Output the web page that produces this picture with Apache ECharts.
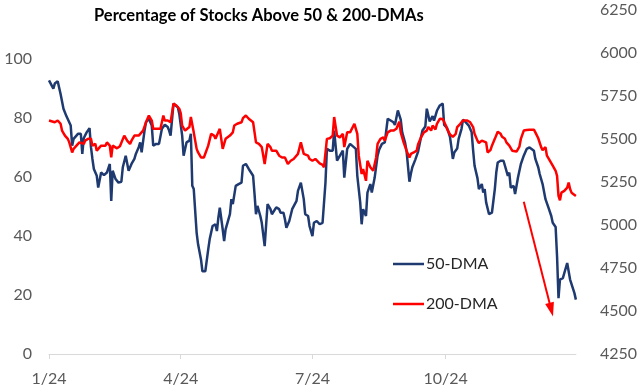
<!DOCTYPE html>
<html>
<head>
<meta charset="utf-8">
<script src="https://cdn.jsdelivr.net/npm/echarts@6/dist/echarts.min.js"></script>
<style>
html,body{margin:0;padding:0;background:#fff;}
#chart{width:640px;height:390px;}
</style>
</head>
<body>
<div id="chart"></div>
<script>
// ---- data ----
const chartTitle = 'Percentage of Stocks Above 50 & 200-DMAs';
const seriesNames = ['50-DMA', '200-DMA'];
const xTickDates = ['1/2', '4/2', '7/2', '10/2'];
const xTickLabels = ['1/24', '4/24', '7/24', '10/24'];

const dates50 = ['1/2','1/5','1/6','1/8','1/10','1/12','1/14','1/17','1/18','1/19','1/22','1/24','1/25','1/26','1/28','1/30','1/31',
'2/1','2/2','2/4','2/5','2/7','2/9','2/11','2/13','2/14','2/15','2/17','2/19','2/21','2/22','2/23','2/24','2/26','2/28',
'3/1','3/2','3/4','3/5','3/6','3/8','3/9','3/11','3/13','3/14','3/16','3/18','3/20','3/22','3/24','3/25','3/26','3/28','3/29','3/31',
'4/1','4/3','4/4','4/6','4/8','4/9','4/10','4/11','4/13','4/14','4/16','4/17','4/19','4/21','4/22','4/24','4/26','4/27','4/28','4/29',
'5/1','5/2','5/3','5/6','5/7','5/8','5/10','5/12','5/14','5/15','5/17','5/19','5/22','5/23','5/24','5/25','5/27','5/28','5/30',
'6/1','6/3','6/4','6/7','6/9','6/10','6/12','6/13','6/14','6/16','6/18','6/21','6/22','6/24','6/26','6/27','6/29','6/30',
'7/2','7/3','7/5','7/7','7/9','7/10','7/11','7/12','7/14','7/16','7/17','7/19','7/21','7/23','7/24','7/26','7/28','7/29',
'8/1','8/2','8/4','8/5','8/6','8/8','8/9','8/11','8/12','8/14','8/16','8/17','8/19','8/21','8/23','8/25','8/27','8/28','8/30',
'9/1','9/2','9/4','9/5','9/7','9/8','9/9','9/11','9/13','9/15','9/16','9/18','9/19','9/21','9/23','9/24','9/26','9/28','9/30',
'10/1','10/3','10/5','10/6','10/7','10/8','10/10','10/11','10/13','10/14','10/16','10/17','10/18','10/20','10/21','10/22','10/24','10/25','10/27','10/28','10/29','10/30',
'11/1','11/2','11/3','11/5','11/6','11/7','11/9','11/11','11/12','11/14','11/15','11/16','11/18','11/19','11/21','11/23','11/25','11/27','11/29',
'12/2','12/3','12/5','12/6','12/8','12/10','12/12','12/14','12/15','12/17','12/18','12/19','12/20','12/22','12/23','12/25','12/26','12/27','12/30','12/31'];
const values50 = [92.6,89.8,91.5,92.3,88,83,80.5,77.3,70.5,72.8,74.5,74.5,67.7,73,75,76.4,70,
66,62.6,60.3,56.3,61.4,60.5,61.4,64.3,51.8,62,59.2,58,58.3,63.2,63.7,67.1,62,64.3,
66,67.7,70,71.6,68.2,75.6,78.4,79.6,77.3,70.5,71.1,71.1,76.2,77.6,76.8,75.6,73.9,84.7,84.1,83.5,
81.3,73.9,67.1,71.6,72.2,74.5,56.9,55.8,41,37.1,32,28,28,35.4,38.8,43.3,43.9,41.6,46.1,49.5,
42.2,38.2,42.2,47.3,52.4,50.7,56.9,57.5,58,63.7,64.3,62.6,60.3,54.1,47.3,50.1,46.7,44.4,36.5,
50.7,49,47.3,49.6,49,47.8,47.8,45.6,42.7,45,49,51.8,55.2,58,52.4,47.3,46.7,43.3,
39.9,44.4,45,43.9,44.4,43.9,58,69.4,68.8,68.8,75.6,65.4,67.1,68.8,59.7,69.4,71.1,71.1,
69.4,60.3,51.3,43.9,49,46.7,54.6,57.5,54.6,59.7,67.1,69,71.1,71.6,79.6,79,78.4,77.5,82.4,
79.3,75,71.5,68.8,58.3,61,63.2,65.7,68.5,73.3,75.6,77,83,78.7,80.5,79,82.3,84.1,84.7,
77.5,76.5,73.5,70,66,68.2,69.5,72.8,76.2,79.3,78.4,79,77.3,75,69,63.7,59.5,55.8,57.5,54.6,55.8,51.3,
47.3,47.8,47.8,55.8,61.4,64.8,65.4,65.4,63.7,60.3,61.4,56.3,56.9,54.1,59.7,64.3,67.1,69.4,69.9,
68.8,66,63.2,60.9,57.5,52.4,49.6,46.7,44.4,43,33,18.9,25.2,25.7,26.3,30.8,31.4,25.2,20.6,18.4];

const dates200 = ['1/2','1/6','1/8','1/10','1/11','1/13','1/15','1/16','1/18','1/19','1/21','1/23','1/26','1/27','1/29','1/31',
'2/1','2/3','2/4','2/5','2/7','2/8','2/10','2/11','2/13','2/14','2/15','2/16','2/18','2/20','2/21','2/23','2/25','2/27','2/28',
'3/1','3/2','3/4','3/5','3/7','3/9','3/11','3/13','3/14','3/17','3/19','3/21','3/22','3/24','3/26','3/28','3/30',
'4/1','4/2','4/3','4/5','4/8','4/9','4/11','4/13','4/14','4/16','4/18','4/21','4/23','4/25','4/26','4/29','4/30',
'5/1','5/3','5/6','5/8','5/9','5/11','5/14','5/15','5/17','5/19','5/22','5/24','5/26','5/28','5/30',
'6/1','6/3','6/4','6/7','6/9','6/11','6/13','6/15','6/17','6/19','6/22','6/24','6/26','6/29','6/30',
'7/2','7/4','7/5','7/7','7/9','7/10','7/12','7/14','7/16','7/17','7/19','7/21','7/23','7/24','7/26','7/28','7/29','7/31',
'8/2','8/3','8/5','8/6','8/8','8/9','8/11','8/13','8/15','8/16','8/18','8/20','8/21','8/23','8/25','8/27','8/29','8/31',
'9/1','9/3','9/5','9/7','9/8','9/10','9/12','9/13','9/15','9/17','9/19','9/20','9/22','9/23','9/25','9/26','9/28','9/30',
'10/2','10/3','10/5','10/7','10/9','10/10','10/12','10/14','10/17','10/19','10/21','10/22','10/24','10/25','10/27','10/28','10/30','10/31',
'11/2','11/3','11/5','11/7','11/9','11/10','11/12','11/13','11/15','11/17','11/18','11/20','11/22','11/23','11/25','11/27','11/29',
'12/2','12/3','12/5','12/7','12/8','12/10','12/11','12/13','12/15','12/17','12/18','12/19','12/20','12/21','12/23','12/25','12/26','12/27','12/28','12/31'];
const values200 = [79,78.4,79,77.9,75.6,73.9,72.8,71.6,68.2,69.4,70.5,71.6,71.1,72.2,72.8,72.8,
70.5,71.1,68.8,68.2,70.5,70,70.5,71.6,70.5,66.5,70.5,70,69.6,70.3,70.3,73.9,72.2,71.1,72.2,
73.9,73.3,73.9,73.3,75.6,78.4,80.7,79,76.2,76.2,76.2,80.7,79,79,78.4,84.7,84.1,
83,81.5,77.3,75.6,76.8,80.2,75,69.4,68.2,66.5,66.5,70.5,74.5,73.9,72.8,76.2,72.8,
69.4,72.8,73.9,75,77.3,77.9,78.4,79.8,80.7,79.6,78.4,71.6,71.1,70,64.3,
71.1,70,68.8,68.8,67.1,66.5,66.5,64.3,65.4,66,67.7,71.6,67.7,67.1,66,
65.4,66,65.4,64.5,64,63.2,72.8,73,73.9,80.2,73.9,73.3,74.5,70,75,75,75,77.9,
74.5,67.1,60.9,62.6,58.6,65.4,63.2,62,66.5,71.1,72.8,73.3,72.2,75,75.6,75.6,76.2,78.6,
75,71.6,68.8,66.5,67.7,68.2,68.8,71,73.3,75,75.6,76.8,75.6,77.3,76,77.9,79.6,79.5,
77.5,76.2,74.3,73.5,74.5,76.8,77.8,79,79,78.4,76.8,74.5,72.2,71.4,72.2,72.8,71.6,68.2,
69,70.5,72.8,75.2,74.5,73.5,72.8,71.6,70.5,68.8,68.5,68.5,70.2,72.8,75.6,75.8,75.9,
75.9,75,73,70,69,70,67.1,65.4,63.7,62,60.3,53.5,52,54.6,55.2,56.3,58,55.8,54.6,53.5];

// annotation arrow (date, value)
const arrowFrom = ['11/25', 51.5];
const arrowTo = ['12/14', 15];

// axes
const leftTicks = { min: 0, interval: 20, top: 116.4 };
const rightTicks = { min: 4250, max: 6250, interval: 250 };
const lastDay = '12/31';

// ---- helpers ----
const BASE = Date.UTC(2024, 0, 2);
function dayOf(md) {
  const p = md.split('/');
  return Math.round((Date.UTC(2024, +p[0] - 1, +p[1]) - BASE) / 86400000);
}
const tickDays = xTickDates.map(dayOf);
const pairs = (ds, vs) => ds.map((d, i) => [dayOf(d), vs[i]]);

const FONT = 'Lato';
const NAVY = '#1f3a70';
const RED = '#ff0000';
const chart = echarts.init(document.getElementById('chart'), null, { renderer: 'canvas' });
chart.setOption({
  animation: false,
  backgroundColor: '#ffffff',
  title: {
    text: chartTitle,
    left: 89, top: 2,
    textStyle: { fontFamily: FONT, fontWeight: 'bold', fontSize: 16.5, color: '#000' }
  },
  legend: {
    orient: 'vertical',
    left: 388, top: 251,
    icon: 'rect',
    itemWidth: 31, itemHeight: 2.5, itemGap: 24,
    data: seriesNames,
    textStyle: { fontFamily: FONT, fontSize: 16, lineHeight: 16, color: '#262626', padding: [0,0,0,-3] }
  },
  grid: { left: 49, right: 62, top: 10, bottom: 36 },
  xAxis: {
    type: 'value', min: 0, max: dayOf(lastDay),
    axisLine: { show: true, lineStyle: { color: '#d9d9d9', width: 1 } },
    axisTick: { show: true, customValues: tickDays, length: 5, lineStyle: { color: '#d9d9d9' } },
    axisLabel: {
      customValues: tickDays, margin: 17,
      formatter: v => xTickLabels[tickDays.indexOf(v)] || '',
      fontFamily: FONT, fontSize: 16, color: '#595959'
    },
    splitLine: { show: false }
  },
  yAxis: [{
    type: 'value', min: leftTicks.min, max: leftTicks.top, interval: leftTicks.interval,
    axisLine: { show: false }, axisTick: { show: false }, splitLine: { show: false },
    axisLabel: { showMaxLabel: false, margin: 17, fontFamily: FONT, fontSize: 16, color: '#595959',
      formatter: v => String(v) }
  }, {
    type: 'value', position: 'right', min: rightTicks.min, max: rightTicks.max, interval: rightTicks.interval,
    axisLine: { show: false }, axisTick: { show: false }, splitLine: { show: false },
    axisLabel: { margin: 24, fontFamily: FONT, fontSize: 16, color: '#595959',
      formatter: v => String(v) }
  }],
  series: [{
    name: seriesNames[0], type: 'line', yAxisIndex: 0,
    data: pairs(dates50, values50),
    symbol: 'none', lineStyle: { color: NAVY, width: 2.5 }, itemStyle: { color: NAVY }
  }, {
    name: seriesNames[1], type: 'line', yAxisIndex: 0,
    data: pairs(dates200, values200),
    symbol: 'none', lineStyle: { color: RED, width: 2.5 }, itemStyle: { color: RED },
    markLine: {
      silent: true, symbol: ['none', 'triangle'], symbolSize: [9, 14],
      label: { show: false },
      lineStyle: { color: RED, width: 2, type: 'solid' },
      data: [[{ coord: [dayOf(arrowFrom[0]), arrowFrom[1]] }, { coord: [dayOf(arrowTo[0]), arrowTo[1]] }]]
    }
  }]
});
</script>
</body>
</html>
